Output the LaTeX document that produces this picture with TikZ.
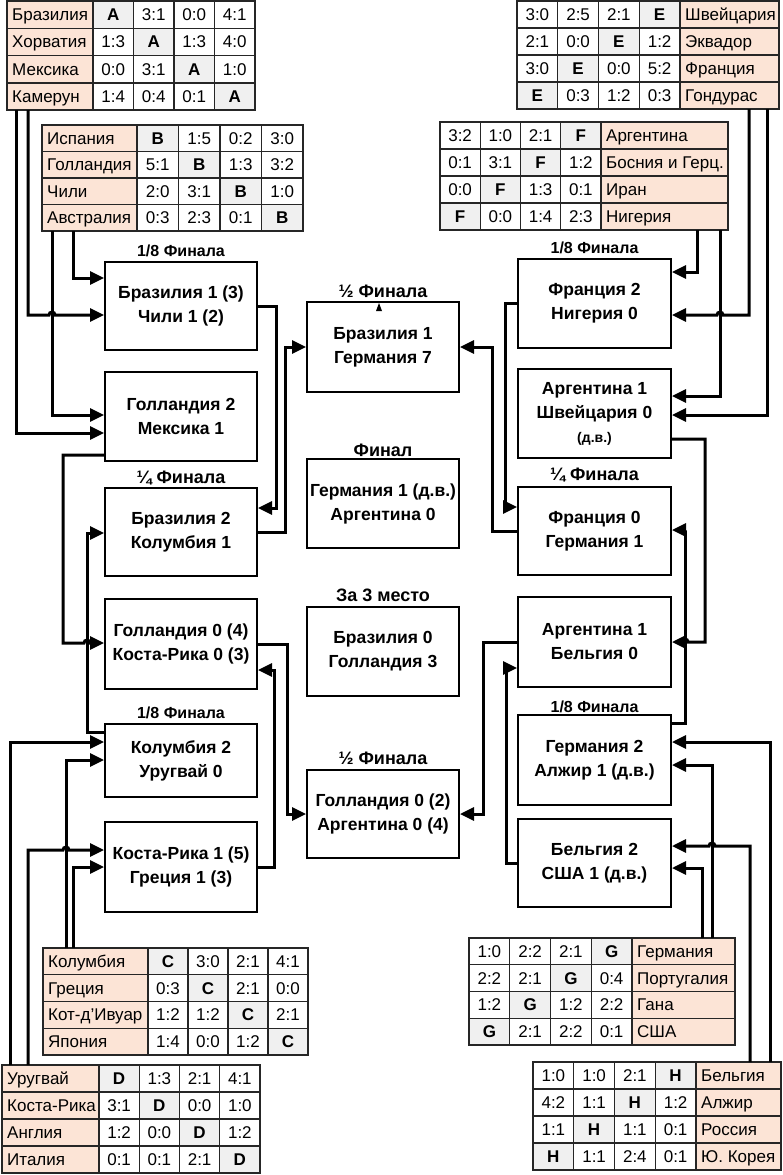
\documentclass[tikz,border=0pt]{standalone}
\usepackage{fontspec}
\setmainfont{Liberation Sans}
\usetikzlibrary{arrows.meta}

\definecolor{peach}{RGB}{252,228,214}
\definecolor{diag}{RGB}{240,240,240}

\tikzset{
  match/.style={draw, line width=2pt, minimum width=152pt, minimum height=88pt,
    align=center, inner sep=0pt, font=\bfseries\fontsize{17.5}{24}\selectfont},
  stage/.style={font=\bfseries\fontsize{16}{18}\selectfont, inner sep=0pt},
  bigstage/.style={font=\bfseries\fontsize{18}{20}\selectfont, inner sep=0pt},
  wire/.style={line width=3pt, -{Triangle[length=14pt,width=13pt]}},
  cellline/.style={line width=1.2pt, draw=black!85},
  tabtext/.style={font=\fontsize{17}{19}\selectfont, inner sep=0pt,
    text height=12pt, text depth=0pt},
}

\newcommand\grpleft[7]{%
  \begin{scope}[shift={(#1,#2)}]
    \foreach \nm/\va/\vb/\vc/\vd [count=\rw] in {#7} {
      \fill[peach] (0,{(\rw-1)*#5}) rectangle (#3,{\rw*#5});
      \fill[diag] ({#3+(\rw-1)*#4},{(\rw-1)*#5}) rectangle ++(#4,#5);
      \node[tabtext, anchor=west] (#6-\rw-0) at (5,{(\rw-0.5)*#5}) {\nm};
      \foreach \sv [count=\cl] in {\va,\vb,\vc,\vd} {
        \ifnum\cl=\rw\relax\def\ff{\bfseries}\else\def\ff{}\fi
        \node[tabtext] (#6-\rw-\cl) at ({#3+(\cl-0.5)*#4},{(\rw-0.5)*#5}) {\ff\sv};
      }
    }
    \foreach \k in {1,2,3}
      \draw[cellline] (0,{\k*#5}) -- ({#3+4*#4},{\k*#5});
    \foreach \k in {0,...,3}
      \draw[cellline] ({#3+\k*#4},0) -- ({#3+\k*#4},{4*#5});
    \draw[cellline, line width=1.8pt] (0,0) rectangle ({#3+4*#4},{4*#5});
  \end{scope}
}

\newcommand\grpright[7]{%
  \begin{scope}[shift={(#1,#2)}]
    \foreach \nm/\va/\vb/\vc/\vd [count=\rw] in {#7} {
      \pgfmathtruncatemacro\dg{5-\rw}
      \fill[peach] ({4*#4},{(\rw-1)*#5}) rectangle ++(#3,#5);
      \fill[diag] ({(\dg-1)*#4},{(\rw-1)*#5}) rectangle ++(#4,#5);
      \node[tabtext, anchor=west] (#6-\rw-0) at ({4*#4+5},{(\rw-0.5)*#5}) {\nm};
      \foreach \sv [count=\cl] in {\va,\vb,\vc,\vd} {
        \ifnum\cl=\dg\relax\def\ff{\bfseries}\else\def\ff{}\fi
        \node[tabtext] (#6-\rw-\cl) at ({(\cl-0.5)*#4},{(\rw-0.5)*#5}) {\ff\sv};
      }
    }
    \foreach \k in {1,2,3}
      \draw[cellline] (0,{\k*#5}) -- ({4*#4+#3},{\k*#5});
    \foreach \k in {1,...,4}
      \draw[cellline] ({\k*#4},0) -- ({\k*#4},{4*#5});
    \draw[cellline, line width=1.8pt] (0,0) rectangle ({4*#4+#3},{4*#5});
  \end{scope}
}

\begin{document}
\begin{tikzpicture}[x=1pt, y=-1pt]
    \useasboundingbox (0,0) rectangle (783,1175);

    \grpleft{7}{1}{86}{40.5}{27.3}{A}{Бразилия/A/3:1/0:0/4:1,
      Хорватия/1:3/A/1:3/4:0, Мексика/0:0/3:1/A/1:0, Камерун/1:4/0:4/0:1/A}
    \grpleft{42}{125}{95}{41.5}{26.5}{B}{Испания/B/1:5/0:2/3:0,
      Голландия/5:1/B/1:3/3:2, Чили/2:0/3:1/B/1:0, Австралия/0:3/2:3/0:1/B}
    \grpleft{43}{948}{105}{40}{26.75}{C}{Колумбия/C/3:0/2:1/4:1,
      Греция/0:3/C/2:1/0:0, Кот-д’Ивуар/1:2/1:2/C/2:1, Япония/1:4/0:0/1:2/C}
    \grpleft{2}{1065}{97}{40.25}{27}{D}{Уругвай/D/1:3/2:1/4:1,
      Коста-Рика/3:1/D/0:0/1:0, Англия/1:2/0:0/D/1:2, Италия/0:1/0:1/2:1/D}
    \grpright{517}{1}{99}{40.75}{27}{E}{Швейцария/3:0/2:5/2:1/E,
      Эквадор/2:1/0:0/E/1:2, Франция/3:0/E/0:0/5:2, Гондурас/E/0:3/1:2/0:3}
    \grpright{440}{122}{127}{40.25}{27}{F}{Аргентина/3:2/1:0/2:1/F,
      Босния и Герц./0:1/3:1/F/1:2, Иран/0:0/F/1:3/0:1, Нигерия/F/0:0/1:4/2:3}
    \grpright{469}{938}{103}{40.75}{26.75}{G}{Германия/1:0/2:2/2:1/G,
      Португалия/2:2/2:1/G/0:4, Гана/1:2/G/1:2/2:2, США/G/2:1/2:2/0:1}
    \grpright{533}{1062}{85}{40.75}{27}{H}{Бельгия/1:0/1:0/2:1/H,
      Алжир/4:2/1:1/H/1:2, Россия/1:1/H/1:1/0:1, Ю. Корея/H/1:1/2:4/0:1}

    \coordinate (a1) at (16,110);
    \coordinate (a2) at (28,110);
    \coordinate (b1) at (52,231);
    \coordinate (b2) at (73,231);
    \coordinate (c1) at (66,948);
    \coordinate (c2) at (73,948);
    \coordinate (d1) at (10,1065);
    \coordinate (d2) at (28,1065);
    \coordinate (e1) at (749,109);
    \coordinate (e2) at (767,109);
    \coordinate (f1) at (697,230);
    \coordinate (f2) at (720,230);
    \coordinate (g1) at (712,938);
    \coordinate (g2) at (702,938);
    \coordinate (h1) at (750,1062);
    \coordinate (h2) at (770,1062);

    \node[match] (L1) at (181,306) {Бразилия 1 (3)\\Чили 1 (2)};
    \node[match, minimum height=89pt] (L2) at (181,416.5) {Голландия 2\\Мексика 1};
    \node[match] (L3) at (181,532) {Бразилия 2\\Колумбия 1};
    \node[match, minimum height=90pt] (L4) at (181,644) {Голландия 0 (4)\\Коста-Рика 0 (3)};
    \node[match, minimum height=73pt] (L5) at (181,760.5) {Колумбия 2\\Уругвай 0};
    \node[match, minimum height=90pt] (L6) at (181,867) {Коста-Рика 1 (5)\\Греция 1 (3)};
    \node[match, minimum width=153pt, minimum height=89pt] (R1) at (594.5,303.5) {Франция 2\\Нигерия 0};
    \node[match, minimum width=153pt, minimum height=89pt] (R2) at (594.5,413.5)
      {Аргентина 1\\Швейцария 0\\{\fontsize{14}{16}\selectfont(д.в.)}};
    \node[match, minimum width=153pt] (R3) at (594.5,531) {Франция 0\\Германия 1};
    \node[match, minimum width=153pt, minimum height=90pt] (R4) at (594.5,642) {Аргентина 1\\Бельгия 0};
    \node[match, minimum width=153pt, minimum height=90pt] (R5) at (594.5,760) {Германия 2\\Алжир 1 (д.в.)};
    \node[match, minimum width=153pt] (R6) at (594.5,863) {Бельгия 2\\США 1 (д.в.)};
    \node[match, minimum height=90pt] (S1) at (383,347) {Бразилия 1\\Германия 7};
    \node[match, minimum height=89pt] (FN) at (383,503.5) {Германия 1 (д.в.)\\Аргентина 0};
    \node[match, minimum height=89pt] (T3) at (383,651.5) {Бразилия 0\\Голландия 3};
    \node[match] (S2) at (383,814) {Голландия 0 (2)\\Аргентина 0 (4)};
    \fill (376,311) -- (382,311) -- (379,303) -- cycle;

    \node[stage] (st1) at (181,251) {1/8 Финала};
    \node[stage] (st2) at (594.5,248) {1/8 Финала};
    \node[bigstage] (st3) at (181,478) {¼ Финала};
    \node[bigstage] (st4) at (594.5,475) {¼ Финала};
    \node[stage] (st5) at (181,713) {1/8 Финала};
    \node[stage] (st6) at (594.5,707) {1/8 Финала};
    \node[bigstage] (st7) at (383,291) {½ Финала};
    \node[bigstage] (st8) at (383,450) {Финал};
    \node[bigstage] (st9) at (383,595) {За 3 место};
    \node[bigstage] (st10) at (383,758) {½ Финала};

    \draw[wire] (b2) |- (L1.west |- 0,278);
    \draw[wire] (a2) |- (49,315) arc[start angle=180, end angle=0, radius=3pt] -- (L1.west |- 0,315);
    \draw[wire] (b1) |- (L2.west |- 0,415);
    \draw[wire] (a1) |- (L2.west |- 0,433);
    \draw[wire] (L1.east) -| (276,508) -- (L3.east |- 0,508);
    \draw[wire] (L2.west |- 0,455) -| (63,643) -- (84,643)
      arc[start angle=180, end angle=0, radius=3pt] -- (L4.west |- 0,643);
    \draw[wire] (L3.east) -| (285,347) -- (S1.west);
    \draw[wire] (L5.west |- 0,732) -| (87,533) -- (L3.west |- 0,533);
    \draw[wire] (L4.east) -| (287,814) -- (S2.west);
    \draw[wire] (L6.east) -| (274,670) -- (L4.east |- 0,670);
    \draw[wire] (d1) |- (L5.west |- 0,742);
    \draw[wire] (c1) |- (L5.west |- 0,760);
    \draw[wire] (d2) |- (63,850) arc[start angle=180, end angle=0, radius=3pt] -- (L6.west |- 0,850);
    \draw[wire] (c2) |- (L6.west |- 0,867);

    \draw[wire] (f1) |- (R1.east |- 0,272);
    \draw[wire] (e1) |- (723,315) arc[start angle=0, end angle=180, radius=3pt] -- (R1.east |- 0,315);
    \draw[wire] (f2) |- (R2.east |- 0,396);
    \draw[wire] (e2) |- (R2.east |- 0,415);
    \draw[wire] (R1.west) -| (505,507) -- (R3.west |- 0,507);
    \draw[wire] (R3.west) -| (492,347) -- (S1.east);
    \draw[wire] (R2.east |- 0,439) -| (705,642) -- (688,642)
      arc[start angle=0, end angle=180, radius=3pt] -- (R4.east |- 0,642);
    \draw[wire] (R5.east |- 0,723) -| (685,530) -- (R3.east |- 0,530);
    \draw[wire] (R4.west) -| (483,814) -- (S2.east);
    \draw[wire] (R6.west) -| (506,668) -- (R4.west |- 0,668);
    \draw[wire] (h2) |- (R5.east |- 0,742);
    \draw[wire] (g1) |- (R5.east |- 0,765);
    \draw[wire] (h1) |- (715,846) arc[start angle=0, end angle=180, radius=3pt] -- (R6.east |- 0,846);
    \draw[wire] (g2) |- (R6.east |- 0,868);
\end{tikzpicture}
\end{document}
